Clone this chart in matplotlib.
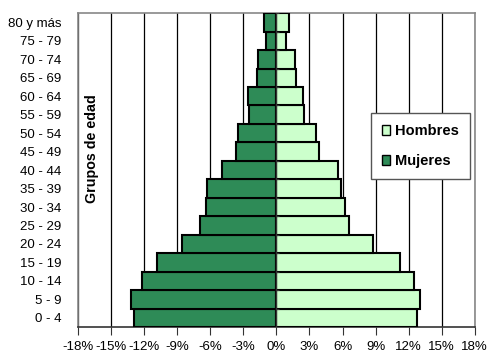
import numpy as np
import matplotlib.pyplot as plt
from matplotlib.patches import Patch

grupos = ['0 - 4', '5 - 9', '10 - 14', '15 - 19', '20 - 24', '25 - 29', '30 - 34',
          '35 - 39', '40 - 44', '45 - 49', '50 - 54', '55 - 59', '60 - 64',
          '65 - 69', '70 - 74', '75 - 79', '80 y más']
mujeres = [-12.9, -13.2, -12.2, -10.85, -8.55, -6.95, -6.35, -6.3, -4.9, -3.7,
           -3.45, -2.5, -2.6, -1.75, -1.7, -0.9, -1.1]
hombres = [12.75, 13.0, 12.45, 11.2, 8.75, 6.6, 6.2, 5.9, 5.55, 3.9, 3.6, 2.5,
           2.4, 1.8, 1.66, 0.88, 1.18]
xticks = np.arange(-18, 19, 3)

plt.rcParams['font.family'] = ['Liberation Sans', 'DejaVu Sans']

color_h = '#ccffcc'
color_m = '#2e8b57'

fig = plt.figure(figsize=(4.87, 3.54), dpi=100)
ax = fig.add_axes([0.160, 0.076, 0.815, 0.887])

y = np.arange(len(grupos))
ax.barh(y, mujeres, height=1.0, color=color_m, edgecolor='black', linewidth=1.5, zorder=3)
ax.barh(y, hombres, height=1.0, color=color_h, edgecolor='black', linewidth=1.5, zorder=3)

# small ticks on the zero axis at the category boundaries
ax.hlines(np.arange(len(grupos) + 1) - 0.5, 0, 0.25, color='#333333', lw=0.8, zorder=4)
ax.axvline(0, color='#333333', lw=1, zorder=4)

ax.set_xlim(-18, 18)
ax.set_ylim(-0.5, len(grupos) - 0.5)
ax.set_xticks(xticks)
ax.set_xticklabels([f'{v}%' for v in xticks], fontsize=9.5)
ax.set_yticks(y)
ax.set_yticklabels(grupos, fontsize=9.5)
ax.tick_params(axis='y', length=0, pad=12)
ax.tick_params(axis='x', length=6, direction='out', color='#333333', pad=4)
ax.grid(axis='x', color='black', lw=0.9, zorder=0)
for s in ax.spines.values():
    s.set_color('#888888')
    s.set_linewidth(1.2)
ax.spines['bottom'].set_color('#333333')

ax.text(0.035, 0.568, 'Grupos de edad', transform=ax.transAxes, rotation=90,
        fontsize=10.3, fontweight='bold', ha='center', va='center')

handles = [Patch(facecolor=color_h, edgecolor='black', label='Hombres'),
           Patch(facecolor=color_m, edgecolor='black', label='Mujeres')]
leg = ax.legend(handles=handles, loc='upper right', bbox_to_anchor=(0.987, 0.682),
                borderaxespad=0, fancybox=False, framealpha=1, edgecolor='#555555',
                prop={'weight': 'bold', 'size': 10.5}, handlelength=0.6,
                handleheight=0.65, handletextpad=0.3, labelspacing=1.1,
                borderpad=0.75)
leg.set_zorder(5)

fig.savefig('out.png', dpi=100)
